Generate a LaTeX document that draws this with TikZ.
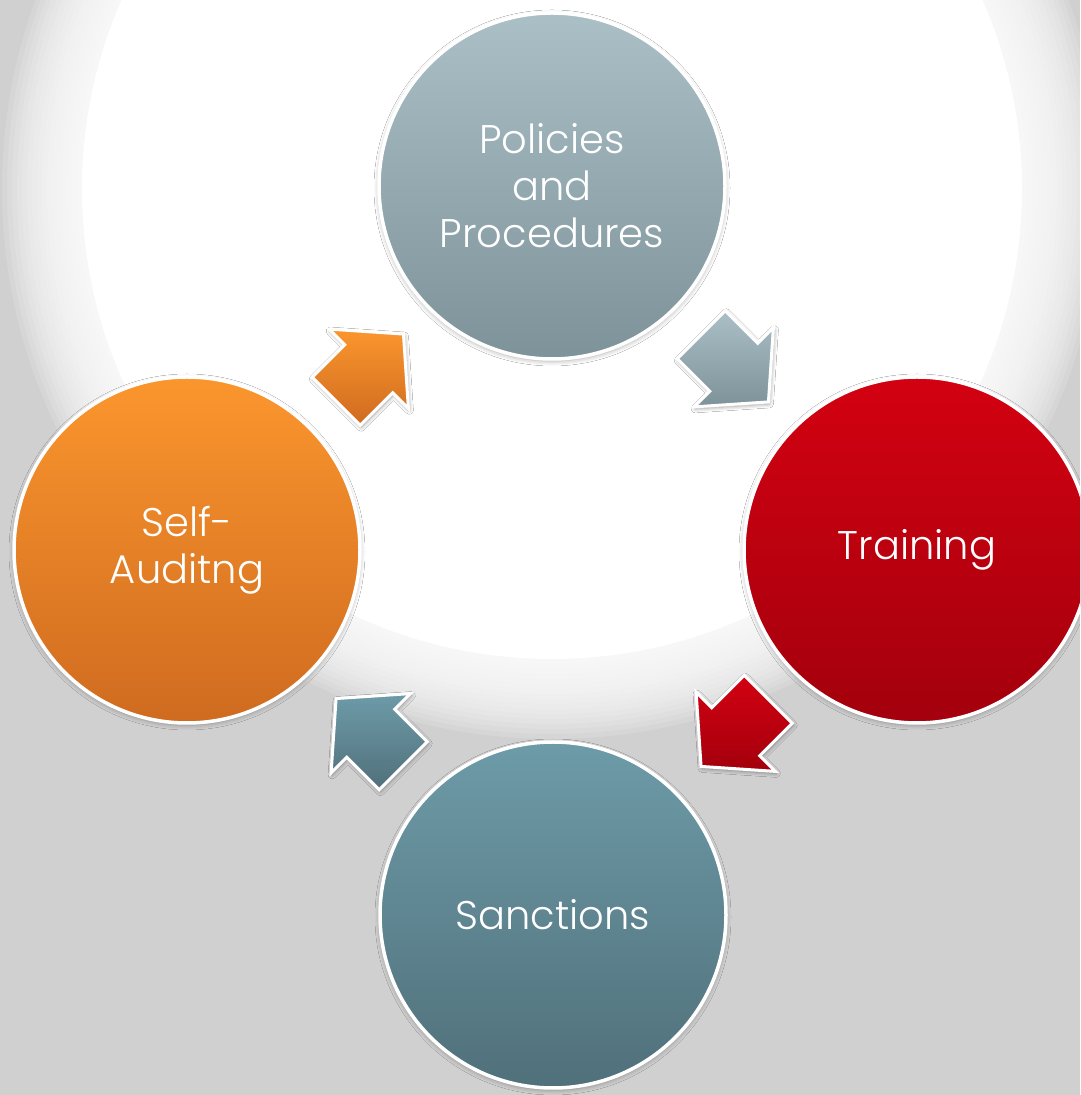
\documentclass[tikz,border=0pt]{standalone}
\usepackage{fontspec}
\IfFontExistsTF{Poppins Light}{\setmainfont{Poppins Light}}{\setmainfont{Poppins}}
\usetikzlibrary{calc,shadows.blur}

\definecolor{bggray}{HTML}{D0D0D0}
\definecolor{polTop}{HTML}{AABFC6}
\definecolor{polBot}{HTML}{7E9299}
\definecolor{trnTop}{HTML}{D30111}
\definecolor{trnBot}{HTML}{A3000D}
\definecolor{sanTop}{HTML}{6D9BA8}
\definecolor{sanBot}{HTML}{50707A}
\definecolor{audTop}{HTML}{FB962E}
\definecolor{audBot}{HTML}{CF6B1F}

\tikzset{
  stage/.style={circle, minimum size=346pt, inner sep=0pt, draw=white, line width=3.5pt,
    text=white, align=center, font=\fontsize{40}{47}\selectfont,
    blur shadow={shadow xshift=0pt, shadow yshift=-2pt, shadow blur radius=5pt, shadow opacity=35}},
  flow/.style={draw=white, line width=3pt, line join=miter,
    blur shadow={shadow xshift=1pt, shadow yshift=-2pt, shadow blur radius=4pt, shadow opacity=40}},
  policies/.style={top color=polTop, bottom color=polBot},
  training/.style={top color=trnTop, bottom color=trnBot},
  sanctions/.style={top color=sanTop, bottom color=sanBot},
  auditing/.style={top color=audTop, bottom color=audBot},
}

% block arrow: #1 centre, #2 direction, #3 colour style
\newcommand{\cyclearrow}[3]{%
  \path[flow,#3] ($(#1)+(#2:-47)+(#2+90:34)$) -- ($(#1)+(#2:-1)+(#2+90:34)$)
    -- ($(#1)+(#2:-1)+(#2+90:56)$) -- ($(#1)+(#2:48)$)
    -- ($(#1)+(#2:-1)+(#2-90:56)$) -- ($(#1)+(#2:-1)+(#2-90:34)$)
    -- ($(#1)+(#2:-47)+(#2-90:34)$) -- cycle;}

\begin{document}
\begin{tikzpicture}[x=1pt,y=1pt]
\useasboundingbox (0,0) rectangle (1080,1095);
\clip (0,0) rectangle (1080,1095);
\fill[bggray] (0,0) rectangle (1080,1095);
% white glow, soft rim built from rings
\coordinate (glow) at (552,906);
\foreach \r in {550,545,...,475}
  \fill[white, fill opacity=0.13] (glow) circle (\r);
\fill[white] (glow) circle (470);

\node[stage,policies] (pol) at (552,909) {Policies\\and\\Procedures};
\node[stage,training] (trn) at (917,545) {Training};
\node[stage,sanctions] (san) at (553,180) {Sanctions};
\node[stage,auditing] (aud) at (187,545) {Self-\\Auditng};

\coordinate (a1) at ($(aud)!0.5!(pol)$);
\coordinate (a2) at ($(pol)!0.5!(trn)$);
\coordinate (a3) at ($(trn)!0.5!(san)$);
\coordinate (a4) at ($(san)!0.5!(aud)$);

\cyclearrow{a1}{45}{auditing}
\cyclearrow{a2}{-45}{policies}
\cyclearrow{a3}{-135}{training}
\cyclearrow{a4}{135}{sanctions}
\end{tikzpicture}
\end{document}
